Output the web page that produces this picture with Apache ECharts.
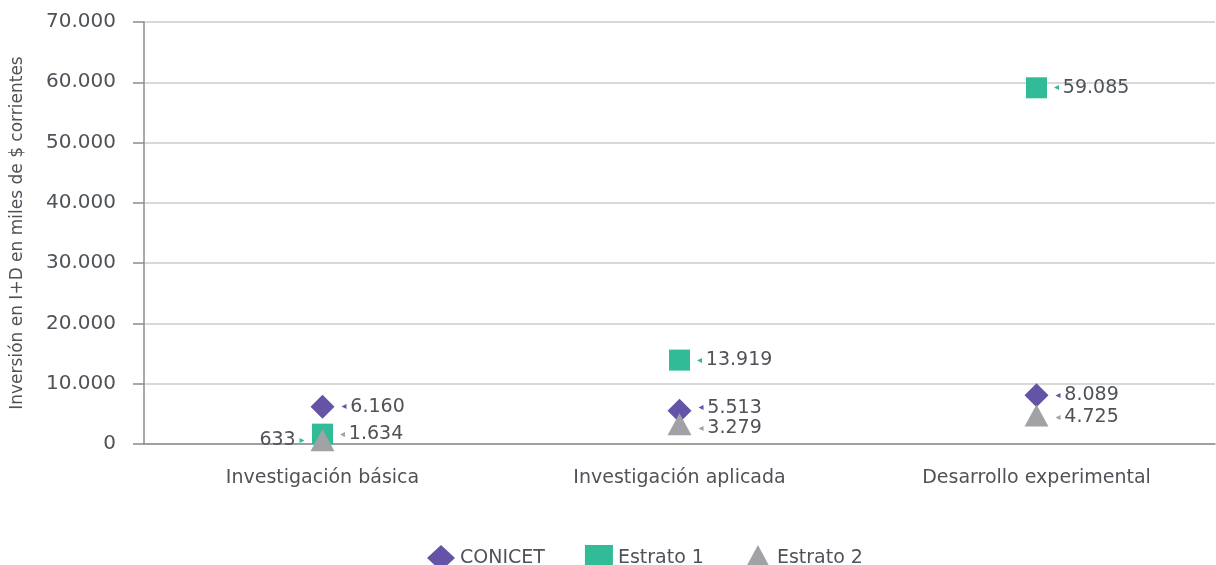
<!DOCTYPE html>
<html>
<head>
<meta charset="utf-8">
<script src="https://cdn.jsdelivr.net/npm/echarts@6/dist/echarts.min.js"></script>
<style>
  html, body { margin: 0; padding: 0; background: #fff; }
  #chart { width: 1216px; height: 565px; }
</style>
</head>
<body>
<div id="chart"></div>
<script>
const categories = ["Investigación básica", "Investigación aplicada", "Desarrollo experimental"];
const conicet = [6160, 5513, 8089];
const estrato1 = [1634, 13919, 59085];
const estrato2 = [633, 3279, 4725];
const yTicks = [0, 10000, 20000, 30000, 40000, 50000, 60000, 70000];

const FONT = "DejaVu Sans";
const TEXT = "#4f5358";
const PURPLE = "#6453a6";
const GREEN = "#32bb97";
const GREY = "#a0a2a5";

function fmt(v) {
  return String(v).replace(/\B(?=(\d{3})+(?!\d))/g, ".");
}

// nudges keep neighbouring labels from overlapping, as in the original
function pointData(values, color, leftIdx, arrowColor, nudge) {
  return values.map((v, i) => {
    const onLeft = i === leftIdx;
    const ac = arrowColor && arrowColor[i] ? arrowColor[i] : color;
    return {
      value: v,
      label: {
        show: true,
        position: onLeft ? "left" : "right",
        distance: onLeft ? 6 : 7,
        offset: [0, nudge ? nudge[i] : 0],
        formatter: onLeft ? "{t|" + fmt(v) + "} {a|▸}" : "{a|◂} {t|" + fmt(v) + "}",
        rich: {
          a: { color: ac, fontSize: 10, fontFamily: FONT },
          t: { color: TEXT, fontSize: 19, fontFamily: FONT }
        }
      }
    };
  });
}

const chart = echarts.init(document.getElementById("chart"));

chart.setOption({
  animation: false,
  textStyle: { fontFamily: FONT, color: TEXT },
  grid: { left: 144, right: 1, top: 22, bottom: 121, containLabel: false },
  legend: {
    left: 422,
    top: 540,
    itemGap: 40,
    itemWidth: 28,
    itemHeight: 26,
    textStyle: { fontSize: 19, color: TEXT, fontFamily: FONT },
    data: [
      { name: "CONICET", icon: "diamond" },
      { name: "Estrato 1", icon: "rect" },
      { name: "Estrato 2", icon: "triangle" }
    ]
  },
  xAxis: {
    type: "category",
    data: categories,
    boundaryGap: true,
    axisLine: { lineStyle: { color: "#8c8c8c", width: 1.5 } },
    axisTick: { alignWithLabel: true, length: 15, lineStyle: { color: "#8c8c8c", width: 1.5 } },
    axisLabel: { margin: 25, fontSize: 19, color: TEXT, fontFamily: FONT }
  },
  yAxis: {
    type: "value",
    min: yTicks[0],
    max: yTicks[yTicks.length - 1],
    interval: yTicks[1] - yTicks[0],
    name: "Inversión en I+D en miles de $ corrientes",
    nameLocation: "middle",
    nameGap: 118,
    nameTextStyle: { fontSize: 17, color: TEXT, fontFamily: FONT },
    axisLine: { show: true, lineStyle: { color: "#8c8c8c", width: 1.5 } },
    axisTick: { show: true, length: 11, lineStyle: { color: "#8c8c8c", width: 1.5 } },
    axisLabel: { margin: 28, fontSize: 20, color: TEXT, fontFamily: FONT, formatter: v => fmt(v) },
    splitLine: { lineStyle: { color: "#d9d9d9", width: 2 } }
  },
  series: [
    {
      name: "CONICET",
      type: "scatter",
      symbol: "diamond",
      symbolSize: [24, 24],
      itemStyle: { color: PURPLE, opacity: 1 },
      data: pointData(conicet, PURPLE, -1, null, [0, -3, 0])
    },
    {
      name: "Estrato 1",
      type: "scatter",
      symbol: "rect",
      symbolSize: [21, 21],
      itemStyle: { color: GREEN, opacity: 1 },
      data: pointData(estrato1, GREEN, -1, [GREY, null, null])
    },
    {
      name: "Estrato 2",
      type: "scatter",
      symbol: "triangle",
      symbolSize: [24, 22],
      itemStyle: { color: GREY, opacity: 1 },
      data: pointData(estrato2, GREY, 0, [GREEN, null, null], [0, 4, 2])
    }
  ]
});
</script>
</body>
</html>
